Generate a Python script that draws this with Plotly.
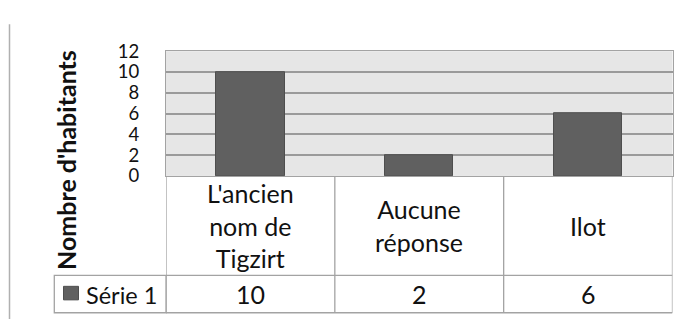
import plotly.graph_objects as go

# Survey answers and counts
categories = ["L'ancien<br>nom de<br>Tigzirt", "Aucune<br>réponse", "Ilot"]
values = [10, 2, 6]
series_name = "Série 1"
y_ticks = [0, 2, 4, 6, 8, 10, 12]
y_title = "Nombre d'habitants"

W, H = 696, 329
FONT = "Lato"
BAR = "#606060"
GRID = "#9a9a9a"
BORDER = "#a3a3a3"
TEXT = "#111111"

def py(pix):
    """Convert a pixel row (from top) to paper y."""
    return (H - pix) / H

def px(pix):
    return pix / W

plot_left, plot_right = 166, 672.5
plot_top, plot_bottom = 42, 175.7
row_mid = 282.3       # rule between category row and value row
table_bottom = 322.3
legend_left = 54.3

xs = list(range(len(values)))

fig = go.Figure(go.Bar(
    x=xs, y=values, width=0.405, name=series_name,
    marker=dict(color=BAR, line=dict(color="#4e4e4e", width=1)),
))

shapes = []
line_style = dict(color=BORDER, width=1.3)
# horizontal table rules across the category columns
for yy in (row_mid, table_bottom):
    shapes.append(dict(type="line", xref="x", yref="paper", x0=-0.5, x1=len(values) - 0.5,
                       y0=py(yy), y1=py(yy), line=line_style))
# vertical column rules through both table rows
for i in range(len(values) + 1):
    shapes.append(dict(type="line", xref="x", yref="paper", x0=i - 0.5, x1=i - 0.5,
                       y0=py(plot_bottom), y1=py(table_bottom), line=line_style))
# legend cell of the value row
shapes.append(dict(type="rect", xref="paper", yref="paper",
                   x0=px(legend_left), x1=px(plot_left), y0=py(table_bottom), y1=py(row_mid),
                   line=line_style))
# legend key square
shapes.append(dict(type="rect", xref="paper", yref="paper",
                   x0=px(63.5), x1=px(78.5), y0=py(308.5), y1=py(294),
                   fillcolor=BAR, line=dict(color="#4e4e4e", width=1)))
# chart-area edge on the left
shapes.append(dict(type="line", xref="paper", yref="paper",
                   x0=px(9.5), x1=px(9.5), y0=py(13), y1=0, line=dict(color="#b0b0b0", width=1.5)))

annotations = []
cat_mid = (plot_bottom + row_mid) / 2
val_mid = (row_mid + table_bottom) / 2
for i, (c, v) in enumerate(zip(categories, values)):
    annotations.append(dict(x=i, xref="x", y=py(cat_mid), yref="paper", text=c,
                            showarrow=False, font=dict(family=FONT, size=25, color=TEXT),
                            align="center", yanchor="middle"))
    annotations.append(dict(x=i, xref="x", y=py(val_mid), yref="paper", text=str(v),
                            showarrow=False, font=dict(family=FONT, size=25, color=TEXT),
                            yanchor="middle"))
annotations.append(dict(x=px(84), xref="paper", y=py(val_mid + 1), yref="paper", text=series_name,
                        xanchor="left", yanchor="middle", showarrow=False,
                        font=dict(family=FONT, size=23.5, color=TEXT)))
annotations.append(dict(x=px(66), xref="paper", y=py(158.5), yref="paper", text="<b>" + y_title + "</b>",
                        textangle=-90, showarrow=False, xanchor="center", yanchor="middle",
                        font=dict(family=FONT, size=25, color=TEXT)))

fig.update_layout(
    width=W, height=H,
    margin=dict(l=0, r=0, t=0, b=0),
    paper_bgcolor="white",
    plot_bgcolor="#e6e6e6",
    showlegend=False,
    bargap=0,
    xaxis=dict(domain=[px(plot_left), px(plot_right)], range=[-0.5, len(values) - 0.5],
               showticklabels=False, showgrid=False, zeroline=False, ticks="",
               showline=True, mirror=True, linecolor=BORDER, linewidth=1.3),
    yaxis=dict(domain=[py(plot_bottom), py(plot_top)], range=[0, 12],
               tickvals=y_ticks, ticktext=[str(t) for t in y_ticks],
               tickfont=dict(family=FONT, size=18.5, color=TEXT),
               ticklabelstandoff=22, ticks="",
               showgrid=True, gridcolor=GRID, gridwidth=1.5, zeroline=False,
               showline=True, mirror=True, linecolor=BORDER, linewidth=1.3),
    shapes=shapes,
    annotations=annotations,
)

fig.write_html("out.html")
